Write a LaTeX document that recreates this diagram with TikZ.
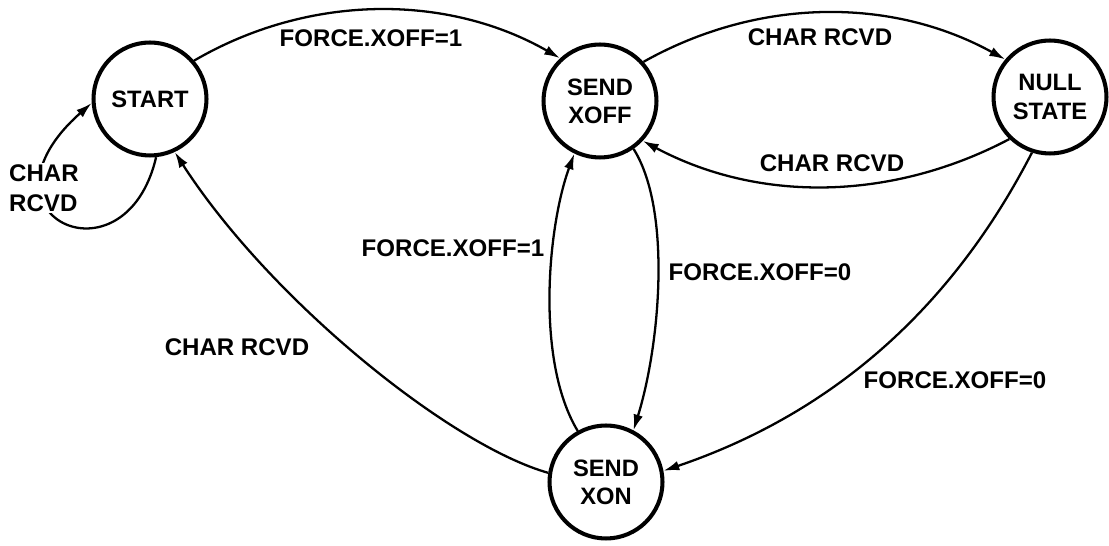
\documentclass[tikz,border=0pt]{standalone}
\usepackage{fontspec}
\setmainfont{Liberation Sans}
\usetikzlibrary{arrows.meta}
\begin{document}
\begin{tikzpicture}[x=0.02cm,y=-0.02cm,
  state/.style={circle,draw,line width=2.3pt,minimum size=2.26cm,inner sep=0pt,align=center,
    font=\fontsize{13.5}{16}\selectfont\bfseries},
  lbl/.style={font=\fontsize{13.7}{17}\selectfont\bfseries,inner sep=1pt},
  edge/.style={line width=1.3pt,-{Latex[length=9pt,width=5.5pt]}}]
\useasboundingbox (0,0) rectangle (1109,546);
\fill[white] (0,0) rectangle (1109,546);

\node[state] (start) at (150,99) {START};
\node[state] (sxoff) at (600,101) {SEND\\XOFF};
\node[state] (null) at (1050,97) {NULL\\STATE};
\node[state] (sxon) at (606,482) {SEND\\XON};

\draw[edge] (start.41) .. controls (310,-7) and (448,-6) .. (sxoff.133);
\draw[edge] (sxoff.42) .. controls (759,-3) and (892,-3) .. (null.140);
\draw[edge] (null.226) .. controls (894,200) and (761,204) .. (sxoff.-43);
\draw[edge] (start.276) .. controls (125,290) and (-35,215) .. (start.184);
\draw[edge] (sxon.171) .. controls (450,445) and (270,300) .. (start.295);
\draw[edge] (sxon.119) .. controls (535,360) and (548,225) .. (sxoff.244);
\draw[edge] (sxoff.-55) .. controls (672,210) and (660,345) .. (sxon.62);
\draw[edge] (null.252) .. controls (951,310) and (831,414) .. (sxon.11);

\node[lbl] (l1) at (371,38) {FORCE.XOFF=1};
\node[lbl] (l2) at (820,37) {CHAR RCVD};
\node[lbl] (l3) at (832,163) {CHAR RCVD};
\node[lbl,fill=white,align=left] (l4) at (44,188) {CHAR\\RCVD};
\node[lbl] (l5) at (237,347) {CHAR RCVD};
\node[lbl] (l6) at (453,248) {FORCE.XOFF=1};
\node[lbl] (l7) at (760,272) {FORCE.XOFF=0};
\node[lbl] (l8) at (955,380) {FORCE.XOFF=0};
\end{tikzpicture}
\end{document}
